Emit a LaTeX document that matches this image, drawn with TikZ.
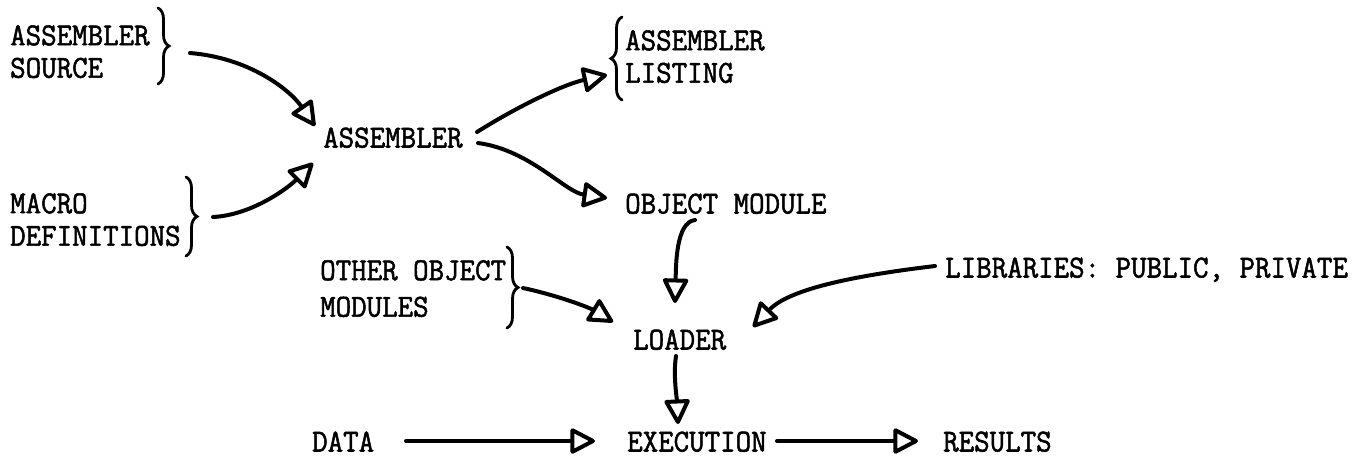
\documentclass[tikz,border=0pt]{standalone}
\usepackage{fontspec}
\setmonofont{Latin Modern Mono}[FakeBold=1.6, FakeStretch=0.94]
\usetikzlibrary{arrows.meta,decorations.pathreplacing}
\newcommand\typeface{\fontsize{32}{32.5}\selectfont\ttfamily}
\tikzset{
  lbl/.style={inner sep=0pt, font=\typeface},
  oneline/.style={lbl, anchor=west, text height=19pt, text depth=0pt},
  twoline/.style={lbl, anchor=north west, align=left},
  flow/.style={line width=4pt, line cap=round,
    -{Triangle[open, round, length=27pt, width=27pt, line width=4pt]}},
  curly/.style={line width=2.8pt, line cap=round, decorate,
    decoration={brace, amplitude=11pt}}
}
\begin{document}
\begin{tikzpicture}[x=1pt, y=-1pt]
\useasboundingbox (0,0) rectangle (1365,466);

% text
\node[twoline] (src) at (10,25)  {ASSEMBLER\\SOURCE};
\node[twoline] (mac) at (10,193) {MACRO\\DEFINITIONS};
\node[oneline] (asm) at (323,138) {ASSEMBLER};
\node[twoline] (lst) at (625,30) {ASSEMBLER\\LISTING};
\node[oneline] (obj) at (625,204) {OBJECT MODULE};
\node[twoline] (oth) at (320,260) {OTHER OBJECT\\[4pt]MODULES};
\node[oneline] (lib) at (945,268) {LIBRARIES: PUBLIC, PRIVATE};
\node[oneline] (ldr) at (633,340) {LOADER};
\node[oneline] (dat) at (312,442) {DATA};
\node[oneline] (exe) at (627,442) {EXECUTION};
\node[oneline] (res) at (943,442) {RESULTS};

% braces grouping the two-line labels
\draw[curly] (158,8) -- (158,84);
\draw[curly] (186,177) -- (186,256);
\draw[curly] (622,100) -- (622,17);
\draw[curly] (507,247) -- (507,328);

% connector ends
\coordinate (srcout) at (190,53);
\coordinate (macout) at (213,217);
\coordinate (asmin1) at (315,126);
\coordinate (asmin2) at (313,163);
\coordinate (asmout1) at (477,132);
\coordinate (asmout2) at (478,143);
\coordinate (lstin) at (607,75);
\coordinate (objin) at (607,198);
\coordinate (objout) at (695,220);
\coordinate (ldrtop) at (675,303);
\coordinate (othout) at (523,288);
\coordinate (ldrleft) at (613,322);
\coordinate (libout) at (935,266);
\coordinate (ldrright) at (753,327);
\coordinate (ldrout) at (676,356);
\coordinate (exetop) at (678,424);
\coordinate (datout) at (406,441);
\coordinate (exein) at (595,441);
\coordinate (exeout) at (777,441);
\coordinate (resin) at (918,441);

% connectors
\draw[flow] (srcout) .. controls (250,58) and (290,90) .. (asmin1);
\draw[flow] (macout) .. controls (252,215) and (288,188) .. (asmin2);
\draw[flow] (asmout1) .. controls (520,105) and (565,84) .. (lstin);
\draw[flow] (asmout2) .. controls (530,150) and (565,192) .. (objin);
\draw[flow] (objout) .. controls (676,222) and (676,265) .. (ldrtop);
\draw[flow] (othout) .. controls (560,296) and (590,308) .. (ldrleft);
\draw[flow] (libout) .. controls (860,275) and (790,288) .. (ldrright);
\draw[flow] (ldrout) .. controls (673,375) and (677,400) .. (exetop);
\draw[flow] (datout) -- (exein);
\draw[flow] (exeout) -- (resin);
\end{tikzpicture}
\end{document}
